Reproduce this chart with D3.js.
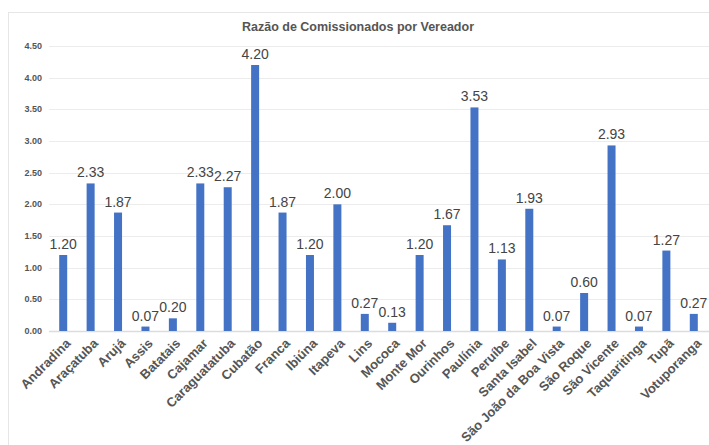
<!DOCTYPE html>
<html>
<head>
<meta charset="utf-8">
<script src="https://cdn.jsdelivr.net/npm/d3@7"></script>
<style>
  body { margin: 0; background: #fff; }
  text { font-family: "Liberation Sans", Arial, sans-serif; }
</style>
</head>
<body>
<svg id="chart" width="709" height="445"></svg>
<script>
const cidades = ['Andradina', 'Araçatuba', 'Arujá', 'Assis', 'Batatais', 'Cajamar', 'Caraguatatuba',
  'Cubatão', 'Franca', 'Ibiúna', 'Itapeva', 'Lins', 'Mococa', 'Monte Mor', 'Ourinhos', 'Paulínia',
  'Peruíbe', 'Santa Isabel', 'São João da Boa Vista', 'São Roque', 'São Vicente', 'Taquaritinga',
  'Tupã', 'Votuporanga'];
const razao = [1.20, 2.33, 1.87, 0.07, 0.20, 2.33, 2.27, 4.20, 1.87, 1.20, 2.00, 0.27, 0.13, 1.20,
  1.67, 3.53, 1.13, 1.93, 0.07, 0.60, 2.93, 0.07, 1.27, 0.27];
const yTicks = [0, 0.5, 1, 1.5, 2, 2.5, 3, 3.5, 4, 4.5];

const svg = d3.select('#chart');
const margin = {top: 46, left: 49, right: 709, bottom: 331};

// frame
svg.append('rect')
  .attr('x', 8.5).attr('y', 12.5)
  .attr('width', 720).attr('height', 450)
  .attr('fill', 'none').attr('stroke', '#e6e6e6');

const x = d3.scaleBand()
  .domain(cidades)
  .range([49.5, 707.5]);
const y = d3.scaleLinear()
  .domain([0, 4.5])
  .range([margin.bottom, margin.top]);

// gridlines + tick labels
svg.append('g').selectAll('line')
  .data(yTicks)
  .join('line')
  .attr('x1', margin.left).attr('x2', margin.right)
  .attr('y1', d => Math.round(y(d)) + 0.5).attr('y2', d => Math.round(y(d)) + 0.5)
  .attr('stroke', d => d === 0 ? '#dcdcdc' : '#ececec')
  .attr('stroke-width', d => d === 0 ? 1.5 : 1);

svg.append('g').selectAll('text')
  .data(yTicks)
  .join('text')
  .attr('x', 42).attr('y', d => y(d) + 3)
  .attr('text-anchor', 'end')
  .attr('font-size', 9).attr('font-weight', 'bold')
  .attr('fill', '#555')
  .text(d => d.toFixed(2));

// title
svg.append('text')
  .attr('x', 358).attr('y', 31)
  .attr('text-anchor', 'middle')
  .attr('font-size', 12.5).attr('font-weight', 'bold')
  .attr('fill', '#555')
  .text('Razão de Comissionados por Vereador');

const bw = 8;
const cx = d => x(d) + x.bandwidth() / 2;

svg.append('g').selectAll('rect')
  .data(cidades)
  .join('rect')
  .attr('x', d => cx(d) - bw / 2)
  .attr('width', bw)
  .attr('y', (d, i) => y(razao[i]))
  .attr('height', (d, i) => y(0) - y(razao[i]))
  .attr('fill', '#4472c4');

svg.append('g').selectAll('text')
  .data(cidades)
  .join('text')
  .attr('x', d => cx(d))
  .attr('y', (d, i) => y(razao[i]) - 6)
  .attr('text-anchor', 'middle')
  .attr('font-size', 14)
  .attr('fill', '#444')
  .text((d, i) => razao[i].toFixed(2));

// category labels
svg.append('g').selectAll('text')
  .data(cidades)
  .join('text')
  .attr('transform', d => `translate(${cx(d) + 5},${y(0) + 10}) rotate(-45)`)
  .attr('text-anchor', 'end')
  .attr('dy', '0.35em')
  .attr('font-size', 13).attr('font-weight', 'bold')
  .attr('fill', '#555')
  .text(d => d);
</script>
</body>
</html>
